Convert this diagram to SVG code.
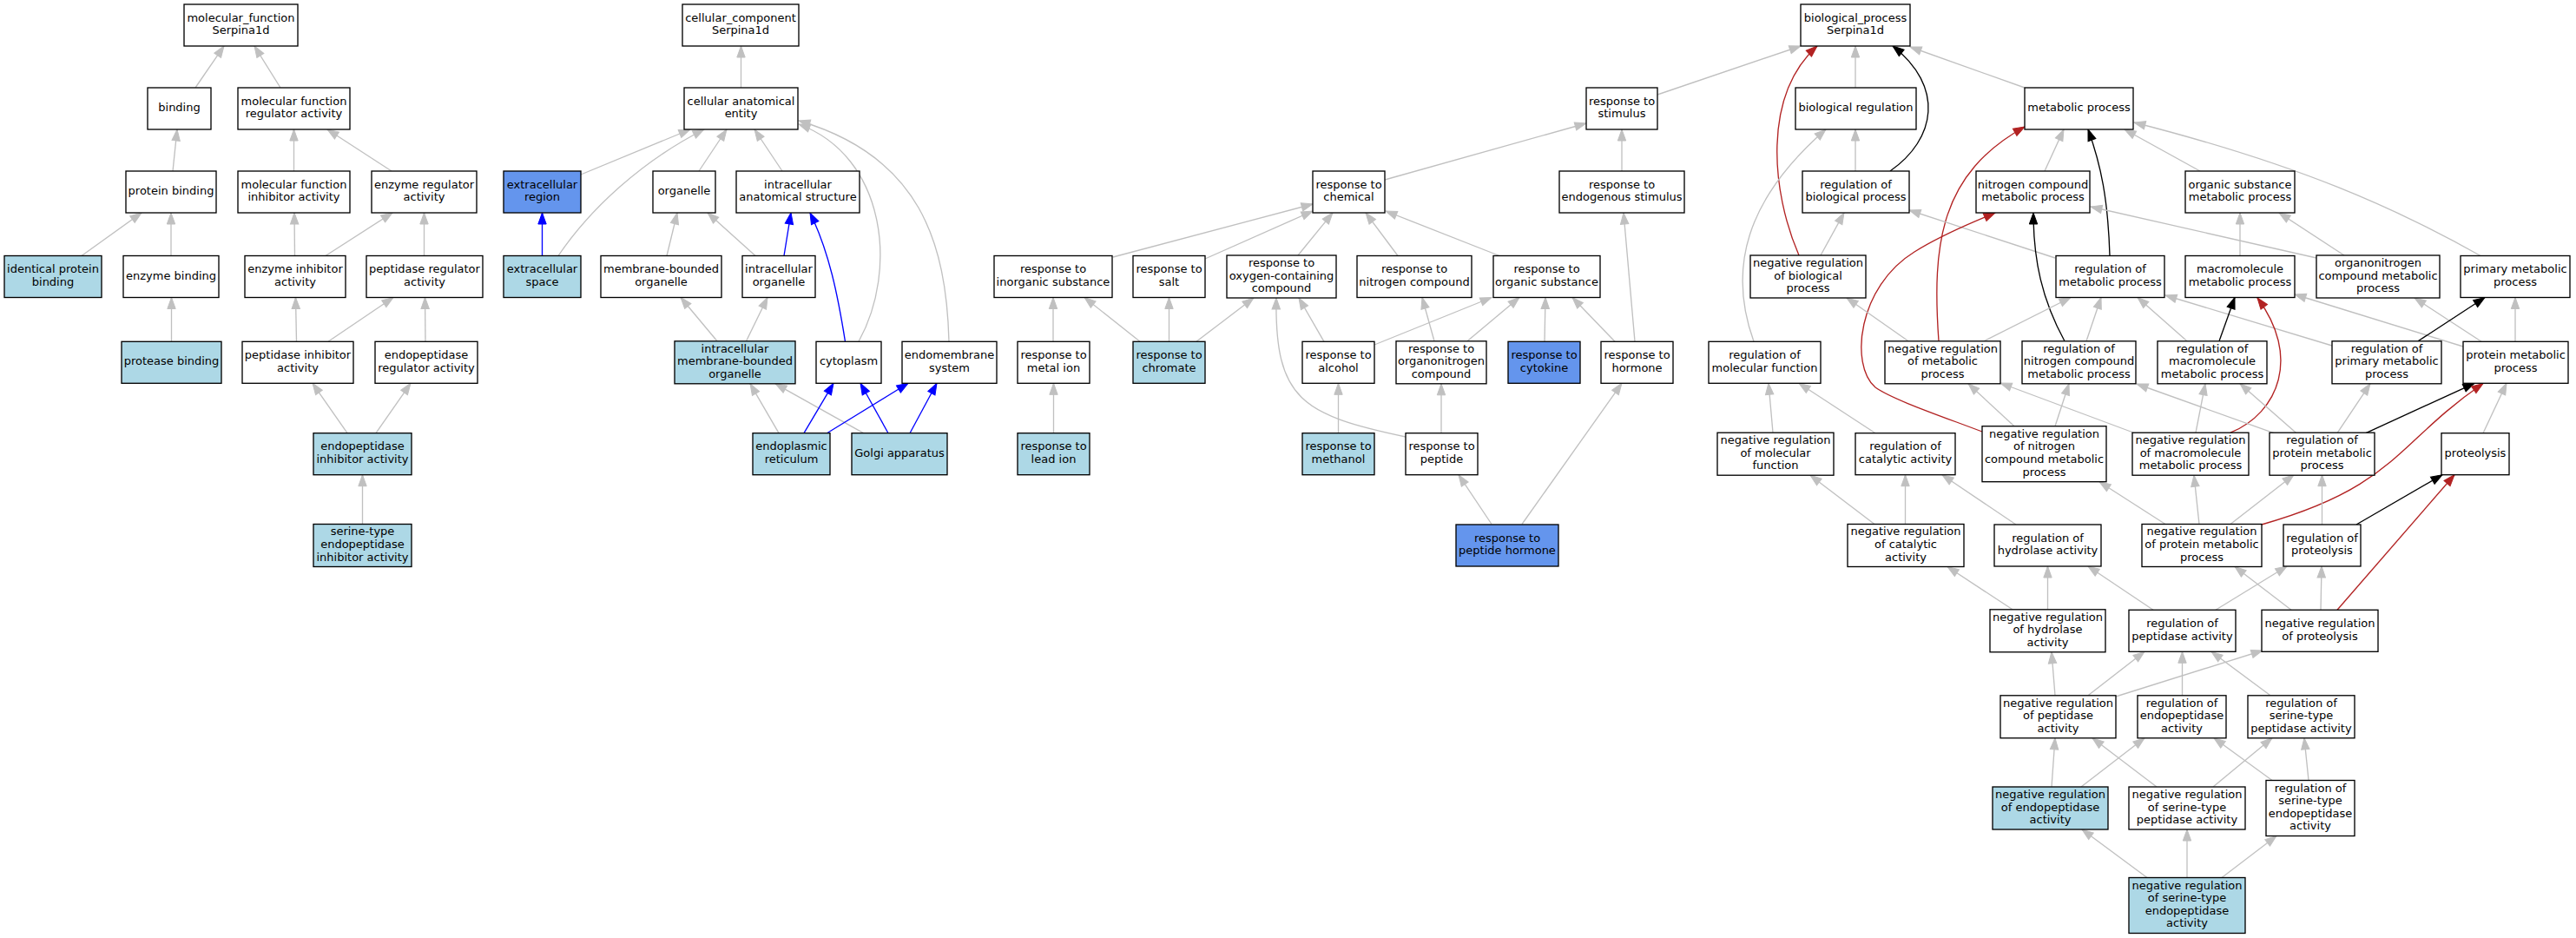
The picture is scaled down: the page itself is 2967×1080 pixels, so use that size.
<svg xmlns="http://www.w3.org/2000/svg" width="2967" height="1080" viewBox="0 0 2967 1080">
<style>
.n rect{stroke:#000;stroke-width:1.33}
.w rect{fill:#fff}
.lb rect{fill:#add8e6}
.cb rect{fill:#6495ed}
text{font-family:"DejaVu Sans","Liberation Sans",sans-serif;font-size:13px;text-anchor:middle;fill:#000}
#edges path{fill:none;stroke-width:1.33}
#edges .g{stroke:#c0c0c0;marker-end:url(#ag)}
#edges .b{stroke:#0000ff;marker-end:url(#ab)}
#edges .r{stroke:#b22222;marker-end:url(#ar)}
#edges .k{stroke:#000;marker-end:url(#ak)}
</style>
<defs>
<marker id="ag" markerUnits="userSpaceOnUse" markerWidth="16" markerHeight="12" viewBox="-1 -1 16 12" refX="13" refY="5" orient="auto"><path d="M0,0.3 L13,5 L0,9.7 z" fill="#c0c0c0" stroke="#c0c0c0" stroke-width="1"/></marker>
<marker id="ab" markerUnits="userSpaceOnUse" markerWidth="16" markerHeight="12" viewBox="-1 -1 16 12" refX="13" refY="5" orient="auto"><path d="M0,0.3 L13,5 L0,9.7 z" fill="#0000ff" stroke="#0000ff" stroke-width="1"/></marker>
<marker id="ar" markerUnits="userSpaceOnUse" markerWidth="16" markerHeight="12" viewBox="-1 -1 16 12" refX="13" refY="5" orient="auto"><path d="M0,0.3 L13,5 L0,9.7 z" fill="#b22222" stroke="#b22222" stroke-width="1"/></marker>
<marker id="ak" markerUnits="userSpaceOnUse" markerWidth="16" markerHeight="12" viewBox="-1 -1 16 12" refX="13" refY="5" orient="auto"><path d="M0,0.3 L13,5 L0,9.7 z" fill="#000" stroke="#000" stroke-width="1"/></marker>
</defs>
<rect x="0" y="0" width="2967" height="1080" fill="#fff"/>

<g id="edges">
<!-- molecular function -->
<path class="g" d="M225,101 L258,53"/>
<path class="g" d="M323,101 L293,53"/>
<path class="g" d="M199,197 L204,149"/>
<path class="g" d="M338.5,197 L338.5,149"/>
<path class="g" d="M451,197 L377,149"/>
<path class="g" d="M94,294.5 L163,245"/>
<path class="g" d="M197,294.5 L197,245"/>
<path class="g" d="M339.5,294.5 L339,245"/>
<path class="g" d="M375,294.5 L452,245"/>
<path class="g" d="M488.5,294.5 L488.5,245"/>
<path class="g" d="M197.5,393.3 L197.5,342.5"/>
<path class="g" d="M341.5,393.3 L340.5,342.5"/>
<path class="g" d="M378,393.3 L453,342.5"/>
<path class="g" d="M490,393.3 L489.5,342.5"/>
<path class="g" d="M400,498.7 L360,441.3"/>
<path class="g" d="M433,498.7 L473,441.3"/>
<path class="g" d="M417.5,603.5 L417.5,546.7"/>
<!-- cellular component -->
<path class="g" d="M853.5,101 L853.5,53"/>
<path class="g" d="M669,201 L795,149"/>
<path class="g" d="M643,294.5 C680,240 740,185 811,149"/>
<path class="g" d="M805,197 L837,149"/>
<path class="g" d="M901,197 L869,149"/>
<path class="g" d="M989,393.3 C1035,310 1020,180 920,143"/>
<path class="g" d="M1093,393.3 C1090,280 1060,180 920,139"/>
<path class="b" d="M624.5,294.5 L624.5,245"/>
<path class="g" d="M768,294.5 L780,245"/>
<path class="g" d="M870,294.5 L815,245"/>
<path class="b" d="M903,294.5 L911,245"/>
<path class="b" d="M973.5,393.3 C965,340 955,290 933,245"/>
<path class="g" d="M826,392.8 L784,342.5"/>
<path class="g" d="M859.5,392.8 L884,342.5"/>
<path class="g" d="M897,498.7 L864,441.8"/>
<path class="g" d="M994.5,498.7 L893,441.8"/>
<path class="b" d="M926,498.7 L960,441.3"/>
<path class="b" d="M952.5,498.7 L1046,441.3"/>
<path class="b" d="M1023,498.7 L991,441.3"/>
<path class="b" d="M1048,498.7 L1079,441.3"/>
<!-- biological process -->
<path class="g" d="M1909,109 L2074,53"/>
<path class="g" d="M2137,101 L2137,53"/>
<path class="g" d="M2332,101 L2200,54"/>
<path class="k" d="M2177,197 C2230,160 2240,100 2180,53"/>
<path class="r" d="M2072,294 C2040,220 2030,110 2093,53"/>
<path class="g" d="M1595,207 L1827,142"/>
<path class="g" d="M1868,197 L1868,149"/>
<path class="g" d="M2137,197 L2137,149"/>
<path class="g" d="M2020,393.3 C1990,310 2010,230 2103,149"/>
<path class="g" d="M2097,294 L2124,245"/>
<path class="g" d="M1282,296 L1512,235"/>
<path class="g" d="M1388,298 L1512,243"/>
<path class="g" d="M1495,294 L1535,245"/>
<path class="g" d="M1610,294.5 L1573,245"/>
<path class="g" d="M1727,294.5 L1596,243"/>
<path class="g" d="M1860,393.3 L1811,342.5"/>
<path class="g" d="M1883,393.3 L1870,245"/>
<path class="g" d="M1779,393.3 L1780,342.5"/>
<path class="g" d="M1652,392.8 L1638,342.5"/>
<path class="g" d="M1690,392.8 L1750,342.5"/>
<path class="g" d="M1583,397 L1718,342.5"/>
<path class="g" d="M1525,393.3 L1496,343"/>
<path class="g" d="M1313,393.3 L1249,342.5"/>
<path class="g" d="M1346.5,393.3 L1346.5,342.5"/>
<path class="g" d="M1378,393.3 L1444,343"/>
<path class="g" d="M1213,393.3 L1213,342.5"/>
<path class="g" d="M1213.5,498.7 L1213.5,441.3"/>
<path class="g" d="M1541.5,498.7 L1541.5,441.3"/>
<path class="g" d="M1660,498.7 L1660,441.8"/>
<path class="g" d="M1619,503 C1500,478 1468,460 1470,343"/>
<path class="g" d="M1718,603.5 L1680,546.7"/>
<path class="g" d="M1753,603.5 L1868,441.3"/>
<path class="g" d="M2355,197 L2377,149"/>
<path class="k" d="M2430,294.5 C2428,230 2420,190 2405,149"/>
<path class="r" d="M2233,392.8 C2225,280 2235,200 2332,146"/>
<path class="g" d="M2534,197 L2447,149"/>
<path class="g" d="M2857,294.5 C2760,240 2650,190 2458,141"/>
<path class="g" d="M2367,297 L2199,242"/>
<path class="k" d="M2378,392.8 C2352,345 2342,300 2342,245"/>
<path class="r" d="M2283,497 C2230,477 2180,460 2160,446 C2130,420 2140,330 2205,290 C2240,268 2275,255 2298,245"/>
<path class="g" d="M2668,297 L2408,238"/>
<path class="g" d="M2700,294 L2625,245"/>
<path class="g" d="M2580,294.5 L2580,245"/>
<path class="g" d="M2897,393.3 L2897,342.5"/>
<path class="g" d="M2858,393.3 L2781,343"/>
<path class="g" d="M2837,399 L2643,339"/>
<path class="k" d="M2785,392.8 L2862,342.5"/>
<path class="g" d="M2686,398 L2494,340"/>
<path class="k" d="M2556,392.8 L2574,342.5"/>
<path class="g" d="M2519,392.8 L2462,342.5"/>
<path class="r" d="M2569,498.2 C2625,475 2650,410 2600,343"/>
<path class="g" d="M2403,392.8 L2420,342.5"/>
<path class="g" d="M2285,392.8 L2385,342.5"/>
<path class="g" d="M2198,392.8 L2127,343"/>
<path class="g" d="M2320,490.7 L2267,441.8"/>
<path class="g" d="M2367,490.7 L2383,441.8"/>
<path class="g" d="M2457,498 L2304,441"/>
<path class="g" d="M2529,498.2 L2540,441.8"/>
<path class="g" d="M2619,498.7 L2461,442"/>
<path class="g" d="M2645,498.7 L2580,441.8"/>
<path class="g" d="M2692,498.7 L2730,441.8"/>
<path class="k" d="M2725,498.7 L2850,441.3"/>
<path class="r" d="M2605,604 C2760,560 2760,510 2860,441.5"/>
<path class="g" d="M2860,498.7 L2887,441.3"/>
<path class="g" d="M2042,498.2 L2037,441.3"/>
<path class="g" d="M2160,498.7 L2072,441.3"/>
<path class="g" d="M2159,603.5 L2085,547.2"/>
<path class="g" d="M2194.5,603.5 L2194.5,546.7"/>
<path class="g" d="M2322,604 L2237,546.7"/>
<path class="g" d="M2494,603.5 L2418,554.7"/>
<path class="g" d="M2533,603.5 L2527,547.2"/>
<path class="g" d="M2569,603.5 L2642,546.7"/>
<path class="g" d="M2674.5,604 L2674.5,546.7"/>
<path class="k" d="M2714,604 L2813,546.7"/>
<path class="g" d="M2318,701.8 L2243,652.5"/>
<path class="g" d="M2358.5,701.8 L2358.5,652"/>
<path class="g" d="M2480,702.3 L2405,652"/>
<path class="g" d="M2552,702.3 L2634,652"/>
<path class="g" d="M2673,702.3 L2674,652"/>
<path class="g" d="M2639,702.3 L2574,652.5"/>
<path class="r" d="M2692,702.3 L2827,546.7"/>
<path class="g" d="M2367,800.8 L2363,750.8"/>
<path class="g" d="M2405,800.8 L2470,750.3"/>
<path class="g" d="M2437,802 L2606,749"/>
<path class="g" d="M2513.5,800.8 L2513.5,750.3"/>
<path class="g" d="M2615,800.8 L2547,750.3"/>
<path class="g" d="M2363,906 L2367,849.8"/>
<path class="g" d="M2397,906 L2470,849.8"/>
<path class="g" d="M2484,906 L2410,849.8"/>
<path class="g" d="M2549,906 L2617,849.8"/>
<path class="g" d="M2659,898.5 L2654,849.8"/>
<path class="g" d="M2617,898.5 L2550,849.8"/>
<path class="g" d="M2473,1010.5 L2398,955"/>
<path class="g" d="M2519,1010.5 L2519,955"/>
<path class="g" d="M2559,1010.5 L2622,962.5"/>
</g>

<!-- molecular function nodes -->
<g id="mf_root" class="n w"><rect x="212" y="5" width="131" height="48"/><text><tspan x="277.5" y="24.7">molecular_function</tspan><tspan x="277.5" y="39.3">Serpina1d</tspan></text></g>
<g id="binding" class="n w"><rect x="170" y="101" width="73" height="48"/><text x="206.5" y="128">binding</text></g>
<g id="mf_regulator" class="n w"><rect x="274" y="101" width="129" height="48"/><text><tspan x="338.5" y="120.7">molecular function</tspan><tspan x="338.5" y="135.3">regulator activity</tspan></text></g>
<g id="protein_binding" class="n w"><rect x="145" y="197" width="104" height="48"/><text x="197" y="224">protein binding</text></g>
<g id="mf_inhibitor" class="n w"><rect x="274" y="197" width="129" height="48"/><text><tspan x="338.5" y="216.7">molecular function</tspan><tspan x="338.5" y="231.3">inhibitor activity</tspan></text></g>
<g id="enzyme_regulator" class="n w"><rect x="428" y="197" width="121" height="48"/><text><tspan x="488.5" y="216.7">enzyme regulator</tspan><tspan x="488.5" y="231.3">activity</tspan></text></g>
<g id="identical_protein_binding" class="n lb"><rect x="5" y="294.5" width="112" height="48"/><text><tspan x="61" y="314.2">identical protein</tspan><tspan x="61" y="328.8">binding</tspan></text></g>
<g id="enzyme_binding" class="n w"><rect x="142" y="294.5" width="110" height="48"/><text x="197" y="321.5">enzyme binding</text></g>
<g id="enzyme_inhibitor" class="n w"><rect x="282" y="294.5" width="116" height="48"/><text><tspan x="340" y="314.2">enzyme inhibitor</tspan><tspan x="340" y="328.8">activity</tspan></text></g>
<g id="peptidase_regulator" class="n w"><rect x="422" y="294.5" width="134" height="48"/><text><tspan x="489" y="314.2">peptidase regulator</tspan><tspan x="489" y="328.8">activity</tspan></text></g>
<g id="protease_binding" class="n lb"><rect x="140" y="393.3" width="115" height="48"/><text x="197.5" y="420.3">protease binding</text></g>
<g id="peptidase_inhibitor" class="n w"><rect x="279" y="393.3" width="128" height="48"/><text><tspan x="343" y="413">peptidase inhibitor</tspan><tspan x="343" y="427.6">activity</tspan></text></g>
<g id="endopeptidase_regulator" class="n w"><rect x="432" y="393.3" width="118" height="48"/><text><tspan x="491" y="413">endopeptidase</tspan><tspan x="491" y="427.6">regulator activity</tspan></text></g>
<g id="endopeptidase_inhibitor" class="n lb"><rect x="361" y="498.7" width="113" height="48"/><text><tspan x="417.5" y="518.4">endopeptidase</tspan><tspan x="417.5" y="533">inhibitor activity</tspan></text></g>
<g id="serine_endopeptidase_inhibitor" class="n lb"><rect x="361" y="603.5" width="113" height="49"/><text><tspan x="417.5" y="616.4">serine-type</tspan><tspan x="417.5" y="631">endopeptidase</tspan><tspan x="417.5" y="645.6">inhibitor activity</tspan></text></g>

<!-- cellular component nodes -->
<g id="cc_root" class="n w"><rect x="786" y="5" width="134" height="48"/><text><tspan x="853" y="24.7">cellular_component</tspan><tspan x="853" y="39.3">Serpina1d</tspan></text></g>
<g id="cellular_anatomical_entity" class="n w"><rect x="788" y="101" width="131" height="48"/><text><tspan x="853.5" y="120.7">cellular anatomical</tspan><tspan x="853.5" y="135.3">entity</tspan></text></g>
<g id="extracellular_region" class="n cb"><rect x="580" y="197" width="89" height="48"/><text><tspan x="624.5" y="216.7">extracellular</tspan><tspan x="624.5" y="231.3">region</tspan></text></g>
<g id="organelle" class="n w"><rect x="752" y="197" width="72" height="48"/><text x="788" y="224">organelle</text></g>
<g id="intracellular_anatomical_structure" class="n w"><rect x="848" y="197" width="142" height="48"/><text><tspan x="919" y="216.7">intracellular</tspan><tspan x="919" y="231.3">anatomical structure</tspan></text></g>
<g id="extracellular_space" class="n lb"><rect x="580" y="294.5" width="89" height="48"/><text><tspan x="624.5" y="314.2">extracellular</tspan><tspan x="624.5" y="328.8">space</tspan></text></g>
<g id="membrane_bounded_organelle" class="n w"><rect x="692" y="294.5" width="139" height="48"/><text><tspan x="761.5" y="314.2">membrane-bounded</tspan><tspan x="761.5" y="328.8">organelle</tspan></text></g>
<g id="intracellular_organelle" class="n w"><rect x="855" y="294.5" width="84" height="48"/><text><tspan x="897" y="314.2">intracellular</tspan><tspan x="897" y="328.8">organelle</tspan></text></g>
<g id="intracellular_mb_organelle" class="n lb"><rect x="777" y="392.8" width="139" height="49"/><text><tspan x="846.5" y="405.7">intracellular</tspan><tspan x="846.5" y="420.3">membrane-bounded</tspan><tspan x="846.5" y="434.9">organelle</tspan></text></g>
<g id="cytoplasm" class="n w"><rect x="940" y="393.3" width="75" height="48"/><text x="977.5" y="420.3">cytoplasm</text></g>
<g id="endomembrane_system" class="n w"><rect x="1039" y="393.3" width="109" height="48"/><text><tspan x="1093.5" y="413">endomembrane</tspan><tspan x="1093.5" y="427.6">system</tspan></text></g>
<g id="endoplasmic_reticulum" class="n lb"><rect x="867" y="498.7" width="89" height="48"/><text><tspan x="911.5" y="518.4">endoplasmic</tspan><tspan x="911.5" y="533">reticulum</tspan></text></g>
<g id="golgi_apparatus" class="n lb"><rect x="981" y="498.7" width="110" height="48"/><text x="1036" y="525.7">Golgi apparatus</text></g>

<!-- biological process nodes -->
<g id="bp_root" class="n w"><rect x="2074" y="5" width="126" height="48"/><text><tspan x="2137" y="24.7">biological_process</tspan><tspan x="2137" y="39.3">Serpina1d</tspan></text></g>
<g id="response_to_stimulus" class="n w"><rect x="1827" y="101" width="82" height="48"/><text><tspan x="1868" y="120.7">response to</tspan><tspan x="1868" y="135.3">stimulus</tspan></text></g>
<g id="biological_regulation" class="n w"><rect x="2068" y="101" width="139" height="48"/><text x="2137.5" y="128">biological regulation</text></g>
<g id="metabolic_process" class="n w"><rect x="2332" y="101" width="125" height="48"/><text x="2394.5" y="128">metabolic process</text></g>
<g id="response_to_chemical" class="n w"><rect x="1512" y="197" width="83" height="48"/><text><tspan x="1553.5" y="216.7">response to</tspan><tspan x="1553.5" y="231.3">chemical</tspan></text></g>
<g id="response_to_endogenous_stimulus" class="n w"><rect x="1796" y="197" width="144" height="48"/><text><tspan x="1868" y="216.7">response to</tspan><tspan x="1868" y="231.3">endogenous stimulus</tspan></text></g>
<g id="regulation_of_biological_process" class="n w"><rect x="2076" y="197" width="123" height="48"/><text><tspan x="2137.5" y="216.7">regulation of</tspan><tspan x="2137.5" y="231.3">biological process</tspan></text></g>
<g id="nitrogen_compound_metabolic_process" class="n w"><rect x="2276" y="197" width="131" height="48"/><text><tspan x="2341.5" y="216.7">nitrogen compound</tspan><tspan x="2341.5" y="231.3">metabolic process</tspan></text></g>
<g id="organic_substance_metabolic_process" class="n w"><rect x="2517" y="197" width="126" height="48"/><text><tspan x="2580" y="216.7">organic substance</tspan><tspan x="2580" y="231.3">metabolic process</tspan></text></g>
<g id="response_to_inorganic_substance" class="n w"><rect x="1145" y="294.5" width="136" height="48"/><text><tspan x="1213" y="314.2">response to</tspan><tspan x="1213" y="328.8">inorganic substance</tspan></text></g>
<g id="response_to_salt" class="n w"><rect x="1305" y="294.5" width="83" height="48"/><text><tspan x="1346.5" y="314.2">response to</tspan><tspan x="1346.5" y="328.8">salt</tspan></text></g>
<g id="response_to_oxygen_containing_compound" class="n w"><rect x="1413" y="294" width="126" height="49"/><text><tspan x="1476" y="306.9">response to</tspan><tspan x="1476" y="321.5">oxygen-containing</tspan><tspan x="1476" y="336.1">compound</tspan></text></g>
<g id="response_to_nitrogen_compound" class="n w"><rect x="1563" y="294.5" width="132" height="48"/><text><tspan x="1629" y="314.2">response to</tspan><tspan x="1629" y="328.8">nitrogen compound</tspan></text></g>
<g id="response_to_organic_substance" class="n w"><rect x="1720" y="294.5" width="123" height="48"/><text><tspan x="1781.5" y="314.2">response to</tspan><tspan x="1781.5" y="328.8">organic substance</tspan></text></g>
<g id="neg_reg_biological_process" class="n w"><rect x="2016" y="294" width="133" height="49"/><text><tspan x="2082.5" y="306.9">negative regulation</tspan><tspan x="2082.5" y="321.5">of biological</tspan><tspan x="2082.5" y="336.1">process</tspan></text></g>
<g id="regulation_of_metabolic_process" class="n w"><rect x="2368" y="294.5" width="125" height="48"/><text><tspan x="2430.5" y="314.2">regulation of</tspan><tspan x="2430.5" y="328.8">metabolic process</tspan></text></g>
<g id="macromolecule_metabolic_process" class="n w"><rect x="2517" y="294.5" width="126" height="48"/><text><tspan x="2580" y="314.2">macromolecule</tspan><tspan x="2580" y="328.8">metabolic process</tspan></text></g>
<g id="organonitrogen_compound_metabolic_process" class="n w"><rect x="2668" y="294" width="142" height="49"/><text><tspan x="2739" y="306.9">organonitrogen</tspan><tspan x="2739" y="321.5">compound metabolic</tspan><tspan x="2739" y="336.1">process</tspan></text></g>
<g id="primary_metabolic_process" class="n w"><rect x="2834" y="294.5" width="126" height="48"/><text><tspan x="2897" y="314.2">primary metabolic</tspan><tspan x="2897" y="328.8">process</tspan></text></g>
<g id="response_to_metal_ion" class="n w"><rect x="1172" y="393.3" width="83" height="48"/><text><tspan x="1213.5" y="413">response to</tspan><tspan x="1213.5" y="427.6">metal ion</tspan></text></g>
<g id="response_to_chromate" class="n lb"><rect x="1305" y="393.3" width="83" height="48"/><text><tspan x="1346.5" y="413">response to</tspan><tspan x="1346.5" y="427.6">chromate</tspan></text></g>
<g id="response_to_alcohol" class="n w"><rect x="1500" y="393.3" width="83" height="48"/><text><tspan x="1541.5" y="413">response to</tspan><tspan x="1541.5" y="427.6">alcohol</tspan></text></g>
<g id="response_to_organonitrogen_compound" class="n w"><rect x="1608" y="392.8" width="104" height="49"/><text><tspan x="1660" y="405.7">response to</tspan><tspan x="1660" y="420.3">organonitrogen</tspan><tspan x="1660" y="434.9">compound</tspan></text></g>
<g id="response_to_cytokine" class="n cb"><rect x="1737" y="393.3" width="83" height="48"/><text><tspan x="1778.5" y="413">response to</tspan><tspan x="1778.5" y="427.6">cytokine</tspan></text></g>
<g id="response_to_hormone" class="n w"><rect x="1844" y="393.3" width="83" height="48"/><text><tspan x="1885.5" y="413">response to</tspan><tspan x="1885.5" y="427.6">hormone</tspan></text></g>
<g id="regulation_of_molecular_function" class="n w"><rect x="1968" y="393.3" width="129" height="48"/><text><tspan x="2032.5" y="413">regulation of</tspan><tspan x="2032.5" y="427.6">molecular function</tspan></text></g>
<g id="neg_reg_metabolic_process" class="n w"><rect x="2171" y="392.8" width="133" height="49"/><text><tspan x="2237.5" y="405.7">negative regulation</tspan><tspan x="2237.5" y="420.3">of metabolic</tspan><tspan x="2237.5" y="434.9">process</tspan></text></g>
<g id="reg_nitrogen_compound_metabolic_process" class="n w"><rect x="2329" y="392.8" width="131" height="49"/><text><tspan x="2394.5" y="405.7">regulation of</tspan><tspan x="2394.5" y="420.3">nitrogen compound</tspan><tspan x="2394.5" y="434.9">metabolic process</tspan></text></g>
<g id="reg_macromolecule_metabolic_process" class="n w"><rect x="2485" y="392.8" width="126" height="49"/><text><tspan x="2548" y="405.7">regulation of</tspan><tspan x="2548" y="420.3">macromolecule</tspan><tspan x="2548" y="434.9">metabolic process</tspan></text></g>
<g id="reg_primary_metabolic_process" class="n w"><rect x="2686" y="392.8" width="126" height="49"/><text><tspan x="2749" y="405.7">regulation of</tspan><tspan x="2749" y="420.3">primary metabolic</tspan><tspan x="2749" y="434.9">process</tspan></text></g>
<g id="protein_metabolic_process" class="n w"><rect x="2837" y="393.3" width="121" height="48"/><text><tspan x="2897.5" y="413">protein metabolic</tspan><tspan x="2897.5" y="427.6">process</tspan></text></g>
<g id="response_to_lead_ion" class="n lb"><rect x="1172" y="498.7" width="83" height="48"/><text><tspan x="1213.5" y="518.4">response to</tspan><tspan x="1213.5" y="533">lead ion</tspan></text></g>
<g id="response_to_methanol" class="n lb"><rect x="1500" y="498.7" width="83" height="48"/><text><tspan x="1541.5" y="518.4">response to</tspan><tspan x="1541.5" y="533">methanol</tspan></text></g>
<g id="response_to_peptide" class="n w"><rect x="1619" y="498.7" width="83" height="48"/><text><tspan x="1660.5" y="518.4">response to</tspan><tspan x="1660.5" y="533">peptide</tspan></text></g>
<g id="neg_reg_molecular_function" class="n w"><rect x="1978" y="498.2" width="134" height="49"/><text><tspan x="2045" y="511.1">negative regulation</tspan><tspan x="2045" y="525.7">of molecular</tspan><tspan x="2045" y="540.3">function</tspan></text></g>
<g id="regulation_of_catalytic_activity" class="n w"><rect x="2137" y="498.7" width="115" height="48"/><text><tspan x="2194.5" y="518.4">regulation of</tspan><tspan x="2194.5" y="533">catalytic activity</tspan></text></g>
<g id="neg_reg_nitrogen_compound_metabolic_process" class="n w"><rect x="2283" y="490.7" width="143" height="64"/><text><tspan x="2354.5" y="503.8">negative regulation</tspan><tspan x="2354.5" y="518.4">of nitrogen</tspan><tspan x="2354.5" y="533">compound metabolic</tspan><tspan x="2354.5" y="547.6">process</tspan></text></g>
<g id="neg_reg_macromolecule_metabolic_process" class="n w"><rect x="2456" y="498.2" width="134" height="49"/><text><tspan x="2523" y="511.1">negative regulation</tspan><tspan x="2523" y="525.7">of macromolecule</tspan><tspan x="2523" y="540.3">metabolic process</tspan></text></g>
<g id="reg_protein_metabolic_process" class="n w"><rect x="2614" y="498.2" width="121" height="49"/><text><tspan x="2674.5" y="511.1">regulation of</tspan><tspan x="2674.5" y="525.7">protein metabolic</tspan><tspan x="2674.5" y="540.3">process</tspan></text></g>
<g id="proteolysis" class="n w"><rect x="2812" y="498.7" width="78" height="48"/><text x="2851" y="525.7">proteolysis</text></g>
<g id="response_to_peptide_hormone" class="n cb"><rect x="1677" y="604" width="118" height="48"/><text><tspan x="1736" y="623.7">response to</tspan><tspan x="1736" y="638.3">peptide hormone</tspan></text></g>
<g id="neg_reg_catalytic_activity" class="n w"><rect x="2128" y="603.5" width="134" height="49"/><text><tspan x="2195" y="616.4">negative regulation</tspan><tspan x="2195" y="631">of catalytic</tspan><tspan x="2195" y="645.6">activity</tspan></text></g>
<g id="regulation_of_hydrolase_activity" class="n w"><rect x="2297" y="604" width="123" height="48"/><text><tspan x="2358.5" y="623.7">regulation of</tspan><tspan x="2358.5" y="638.3">hydrolase activity</tspan></text></g>
<g id="neg_reg_protein_metabolic_process" class="n w"><rect x="2467" y="603.5" width="138" height="49"/><text><tspan x="2536" y="616.4">negative regulation</tspan><tspan x="2536" y="631">of protein metabolic</tspan><tspan x="2536" y="645.6">process</tspan></text></g>
<g id="regulation_of_proteolysis" class="n w"><rect x="2630" y="604" width="89" height="48"/><text><tspan x="2674.5" y="623.7">regulation of</tspan><tspan x="2674.5" y="638.3">proteolysis</tspan></text></g>
<g id="neg_reg_hydrolase_activity" class="n w"><rect x="2292" y="701.8" width="133" height="49"/><text><tspan x="2358.5" y="714.7">negative regulation</tspan><tspan x="2358.5" y="729.3">of hydrolase</tspan><tspan x="2358.5" y="743.9">activity</tspan></text></g>
<g id="regulation_of_peptidase_activity" class="n w"><rect x="2452" y="702.3" width="123" height="48"/><text><tspan x="2513.5" y="722">regulation of</tspan><tspan x="2513.5" y="736.6">peptidase activity</tspan></text></g>
<g id="neg_reg_proteolysis" class="n w"><rect x="2605" y="702.3" width="134" height="48"/><text><tspan x="2672" y="722">negative regulation</tspan><tspan x="2672" y="736.6">of proteolysis</tspan></text></g>
<g id="neg_reg_peptidase_activity" class="n w"><rect x="2304" y="800.8" width="133" height="49"/><text><tspan x="2370.5" y="813.7">negative regulation</tspan><tspan x="2370.5" y="828.3">of peptidase</tspan><tspan x="2370.5" y="842.9">activity</tspan></text></g>
<g id="reg_endopeptidase_activity" class="n w"><rect x="2462" y="800.8" width="102" height="49"/><text><tspan x="2513" y="813.7">regulation of</tspan><tspan x="2513" y="828.3">endopeptidase</tspan><tspan x="2513" y="842.9">activity</tspan></text></g>
<g id="reg_serine_type_peptidase_activity" class="n w"><rect x="2589" y="800.8" width="123" height="49"/><text><tspan x="2650.5" y="813.7">regulation of</tspan><tspan x="2650.5" y="828.3">serine-type</tspan><tspan x="2650.5" y="842.9">peptidase activity</tspan></text></g>
<g id="neg_reg_endopeptidase_activity" class="n lb"><rect x="2295" y="906" width="133" height="49"/><text><tspan x="2361.5" y="918.9">negative regulation</tspan><tspan x="2361.5" y="933.5">of endopeptidase</tspan><tspan x="2361.5" y="948.1">activity</tspan></text></g>
<g id="neg_reg_serine_type_peptidase_activity" class="n w"><rect x="2452" y="906" width="134" height="49"/><text><tspan x="2519" y="918.9">negative regulation</tspan><tspan x="2519" y="933.5">of serine-type</tspan><tspan x="2519" y="948.1">peptidase activity</tspan></text></g>
<g id="reg_serine_type_endopeptidase_activity" class="n w"><rect x="2610" y="898.5" width="102" height="64"/><text><tspan x="2661" y="911.6">regulation of</tspan><tspan x="2661" y="926.2">serine-type</tspan><tspan x="2661" y="940.8">endopeptidase</tspan><tspan x="2661" y="955.4">activity</tspan></text></g>
<g id="neg_reg_serine_type_endopeptidase_activity" class="n lb"><rect x="2452" y="1010.5" width="134" height="64"/><text><tspan x="2519" y="1023.6">negative regulation</tspan><tspan x="2519" y="1038.2">of serine-type</tspan><tspan x="2519" y="1052.8">endopeptidase</tspan><tspan x="2519" y="1067.4">activity</tspan></text></g>
</svg>
